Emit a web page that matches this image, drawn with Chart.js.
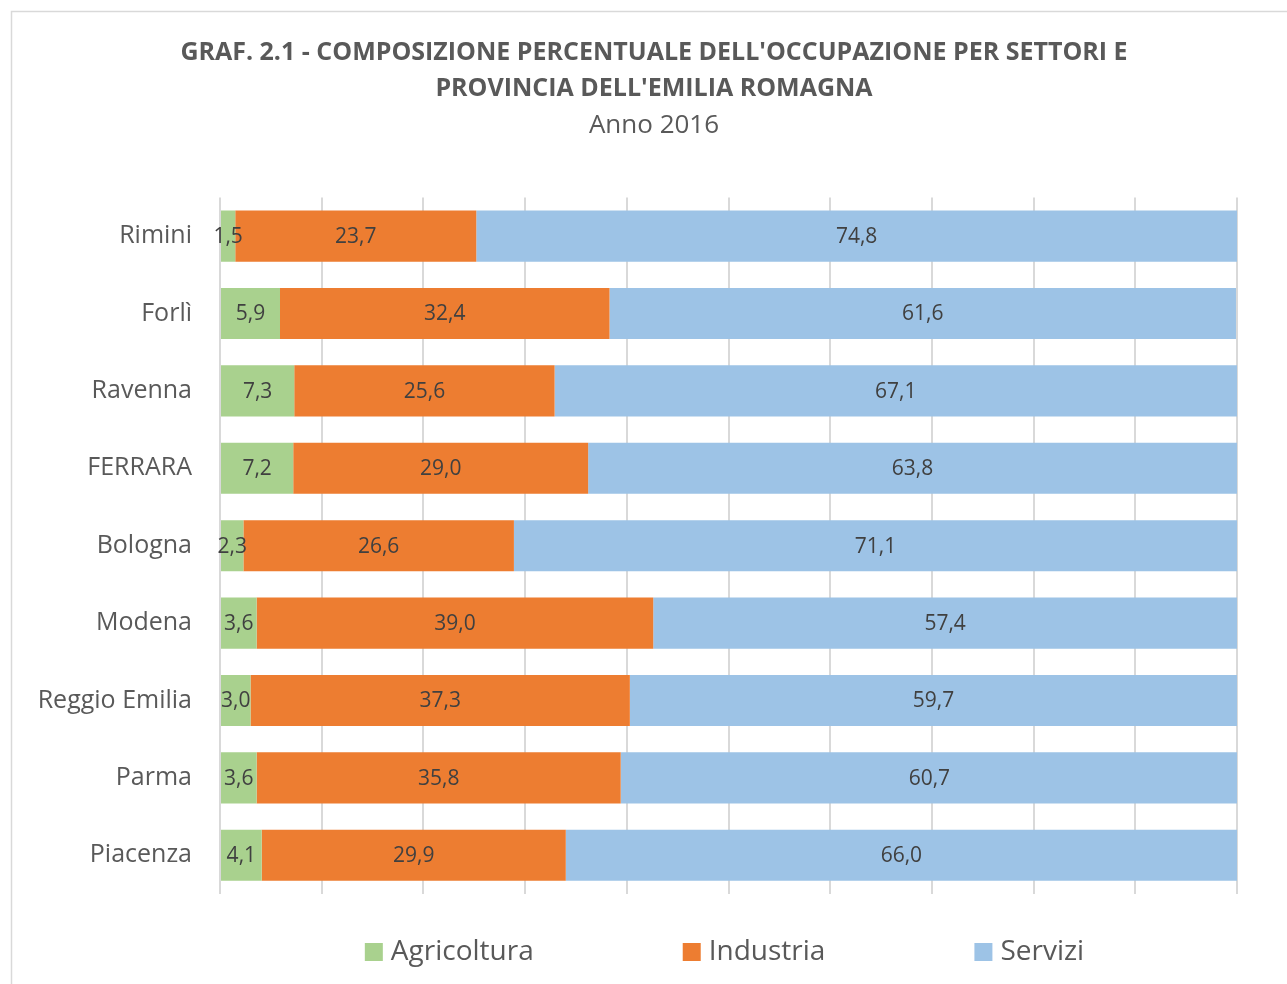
<!DOCTYPE html>
<html>
<head>
<meta charset="utf-8">
<script src="https://cdn.jsdelivr.net/npm/chart.js@4"></script>
<style>
  html, body { margin: 0; padding: 0; background: #fff; }
  #wrap { width: 1287px; height: 984px; }
</style>
</head>
<body>
<div id="wrap"><canvas id="barChart" width="1287" height="984"></canvas></div>
<script>
const province = ['Rimini', 'Forlì', 'Ravenna', 'FERRARA', 'Bologna', 'Modena', 'Reggio Emilia', 'Parma', 'Piacenza'];
const agricoltura = [1.5, 5.9, 7.3, 7.2, 2.3, 3.6, 3.0, 3.6, 4.1];
const industria = [23.7, 32.4, 25.6, 29.0, 26.6, 39.0, 37.3, 35.8, 29.9];
const servizi = [74.8, 61.6, 67.1, 63.8, 71.1, 57.4, 59.7, 60.7, 66.0];

const FONT = "'Open Sans', sans-serif";
const grigio = '#595959';

// cornice grigia del grafico e sfondo bianco
const cornice = {
  id: 'cornice',
  beforeDraw(chart) {
    const ctx = chart.ctx;
    ctx.save();
    ctx.fillStyle = '#fff';
    ctx.fillRect(0, 0, chart.width, chart.height);
    ctx.strokeStyle = '#d9d9d9';
    ctx.lineWidth = 1.5;
    ctx.strokeRect(11.5, 11.5, chart.width + 20, chart.height + 20);
    ctx.restore();
  }
};

// titolo centrato sulla cornice (11..1297), non sul canvas
const centraTitolo = {
  id: 'centraTitolo',
  afterLayout(chart) {
    chart.boxes.filter(b => b.position === 'top').forEach(b => {
      b.left = 11;
      b.right = 1297;
      b.width = b.right - b.left;
    });
  }
};

// etichette dei valori al centro di ogni segmento
const etichette = {
  id: 'etichette',
  afterDatasetsDraw(chart) {
    const ctx = chart.ctx;
    ctx.save();
    ctx.font = `21px ${FONT}`;
    ctx.fillStyle = '#404040';
    ctx.textAlign = 'center';
    ctx.textBaseline = 'middle';
    chart.data.datasets.forEach((ds, i) => {
      chart.getDatasetMeta(i).data.forEach((bar, j) => {
        const x = (bar.x + bar.base) / 2;
        ctx.fillText(ds.data[j].toFixed(1).replace('.', ','), x, bar.y + 1);
      });
    });
    ctx.restore();
  }
};

// legenda in basso, voci distanziate come nell'originale
const legenda = {
  id: 'legenda',
  afterDraw(chart) {
    const ctx = chart.ctx;
    const area = chart.chartArea;
    const box = 18, gapTesto = 8, gapVoci = 149;
    ctx.save();
    ctx.font = `28px ${FONT}`;
    const voci = chart.data.datasets.map(ds => ({
      label: ds.label, color: ds.backgroundColor, w: ctx.measureText(ds.label).width
    }));
    const tot = voci.reduce((s, v) => s + box + gapTesto + v.w, 0) + gapVoci * (voci.length - 1);
    let x = (area.left + area.right) / 2 - tot / 2 - 4;
    const y = 952;
    ctx.textBaseline = 'middle';
    ctx.textAlign = 'left';
    voci.forEach(v => {
      ctx.fillStyle = v.color;
      ctx.fillRect(x, y - box / 2, box, box);
      ctx.fillStyle = grigio;
      ctx.fillText(v.label, x + box + gapTesto, y);
      x += box + gapTesto + v.w + gapVoci;
    });
    ctx.restore();
  }
};

new Chart(document.getElementById('barChart').getContext('2d'), {
  type: 'bar',
  data: {
    labels: province,
    datasets: [
      { label: 'Agricoltura', data: agricoltura, backgroundColor: '#a9d18e' },
      { label: 'Industria', data: industria, backgroundColor: '#ed7d31' },
      { label: 'Servizi', data: servizi, backgroundColor: '#9dc3e6' }
    ]
  },
  options: {
    indexAxis: 'y',
    responsive: false,
    animation: false,
    devicePixelRatio: 1,
    datasets: { bar: { categoryPercentage: 1, barPercentage: 0.66, borderWidth: 0 } },
    layout: { padding: { left: 20, right: 50, top: 10, bottom: 90 } },
    scales: {
      x: {
        stacked: true,
        min: 0,
        max: 100,
        ticks: { display: false, stepSize: 10 },
        grid: { color: '#d9d9d9', lineWidth: 2, drawTicks: false },
        border: { display: false },
        afterFit: s => { s.height = 0; }
      },
      y: {
        stacked: true,
        grid: { display: false, drawTicks: false },
        border: { display: false },
        ticks: { color: grigio, font: { family: FONT, size: 25 }, padding: 28 },
        afterFit: s => { s.width = 200; }
      }
    },
    plugins: {
      legend: { display: false },
      tooltip: { enabled: false },
      title: {
        display: true,
        text: ["GRAF. 2.1 - COMPOSIZIONE PERCENTUALE DELL'OCCUPAZIONE PER SETTORI E", "PROVINCIA DELL'EMILIA ROMAGNA"],
        color: grigio,
        font: { family: FONT, size: 25, weight: 'bold', lineHeight: 1.44 },
        padding: { top: 25, bottom: 0 }
      },
      subtitle: {
        display: true,
        text: 'Anno 2016',
        color: grigio,
        font: { family: FONT, size: 26, weight: 'normal', lineHeight: 1.4 },
        padding: { top: 0, bottom: 54 }
      }
    }
  },
  plugins: [cornice, centraTitolo, etichette, legenda]
});
</script>
</body>
</html>
